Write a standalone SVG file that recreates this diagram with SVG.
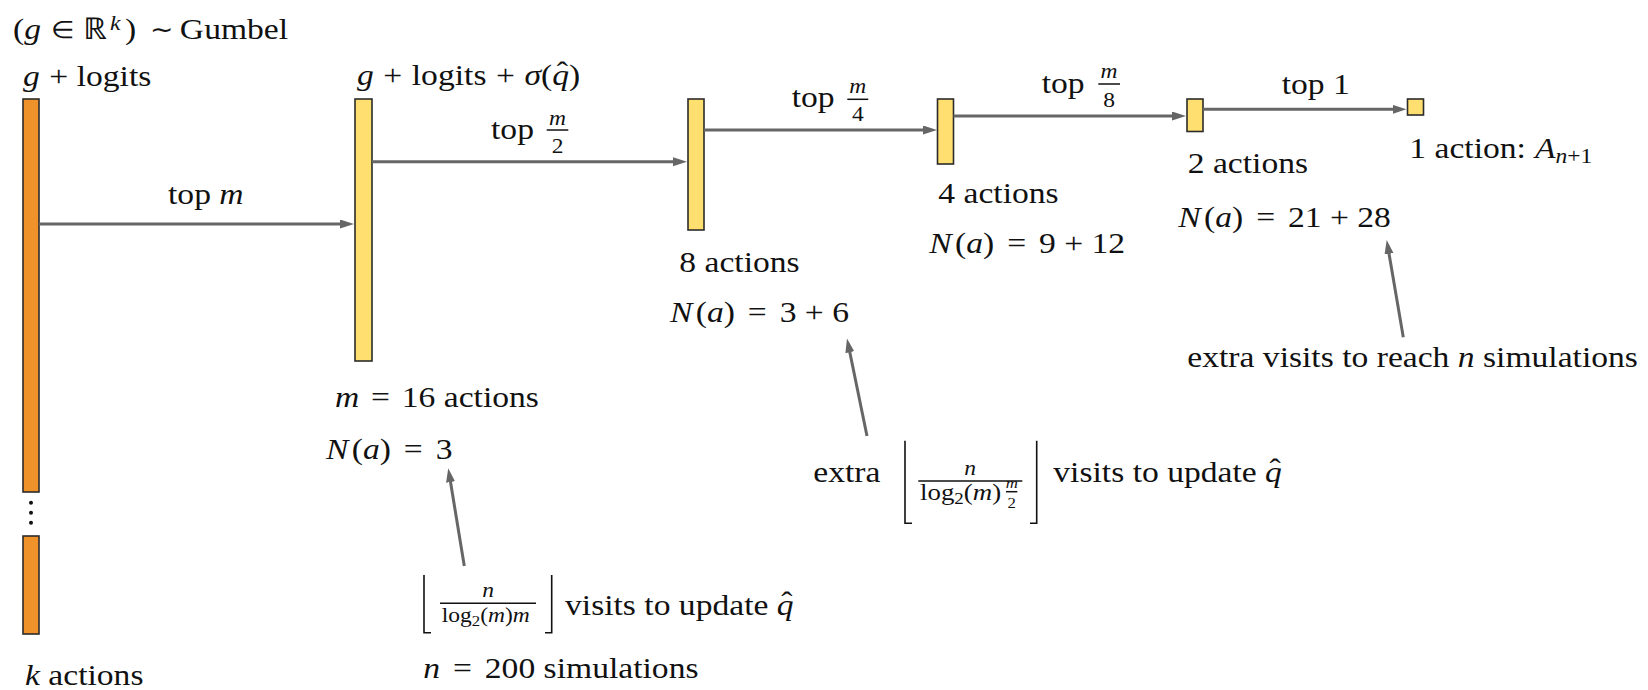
<svg xmlns="http://www.w3.org/2000/svg" width="1648" height="690" viewBox="0 0 1648 690">
<style>
.bar{stroke:#2b2b2b;stroke-width:1.6}
.or{fill:#F0922A}
.ye{fill:#FFDF70}
.con{stroke:#666;stroke-width:3;fill:none;marker-end:url(#ah)}
.fr{stroke:#111;stroke-width:1.5}
.br{stroke:#111;stroke-width:1.6;fill:none}
</style>
<defs>
<marker id="ah" markerUnits="userSpaceOnUse" markerWidth="16" markerHeight="10" refX="2" refY="4.5" orient="auto"><path d="M0,0 L14,4.5 L0,9 z" fill="#666"/></marker>
</defs>

<g id="header">
<text font-family="Liberation Serif" font-size="30" fill="#111" transform="translate(13,39) scale(1.12,1)">(<tspan font-style="italic">g</tspan><tspan x="34" font-size="24" dy="-1">∈</tspan><tspan x="62.5" dy="1">ℝ</tspan><tspan x="86.6" dy="-9" font-size="21" font-style="italic">k</tspan><tspan x="100" dy="9">)</tspan><tspan x="122" font-size="25" dy="-1">∼</tspan><tspan x="149" dy="1">Gumbel</tspan></text>
</g>

<g id="node-k">
<rect class="bar or" x="23" y="99" width="16" height="393"/>
<rect class="bar or" x="23" y="536" width="16" height="98"/>
<circle cx="31" cy="502.7" r="2" fill="#111"/>
<circle cx="31" cy="512.7" r="2" fill="#111"/>
<circle cx="31" cy="522.7" r="2" fill="#111"/>
<text font-family="Liberation Serif" font-size="30" fill="#111" transform="translate(23,86) scale(1.12,1)"><tspan font-style="italic">g</tspan> <tspan dx="1">+</tspan> logits</text>
<text font-family="Liberation Serif" font-size="30" fill="#111" transform="translate(25,685) scale(1.12,1)"><tspan font-style="italic">k</tspan> actions</text>
</g>

<g id="node-m">
<rect class="bar ye" x="355" y="99" width="17" height="262"/>
<text font-family="Liberation Serif" font-size="30" fill="#111" transform="translate(357,85) scale(1.12,1)"><tspan font-style="italic">g</tspan> <tspan dx="1">+</tspan> <tspan dx="1">logits</tspan> <tspan dx="1">+</tspan> <tspan dx="1" font-style="italic">σ</tspan>(<tspan font-style="italic">q</tspan><tspan dx="-11" dy="-3">ˆ</tspan><tspan dx="1" dy="3">)</tspan></text>
<text font-family="Liberation Serif" font-size="30" fill="#111" transform="translate(335,406.7) scale(1.12,1)"><tspan font-style="italic">m</tspan> <tspan dx="3">=</tspan> <tspan dx="3">16</tspan> actions</text>
<text font-family="Liberation Serif" font-size="30" fill="#111" transform="translate(326,459) scale(1.12,1)"><tspan font-style="italic">N</tspan><tspan dx="3">(</tspan><tspan font-style="italic">a</tspan>) <tspan dx="4">=</tspan> <tspan dx="4">3</tspan></text>
</g>

<g id="node-8">
<rect class="bar ye" x="688" y="99" width="16" height="131"/>
<text font-family="Liberation Serif" font-size="30" fill="#111" transform="translate(679.3,271.7) scale(1.12,1)">8 actions</text>
<text font-family="Liberation Serif" font-size="30" fill="#111" transform="translate(670,321.7) scale(1.12,1)"><tspan font-style="italic">N</tspan><tspan dx="3">(</tspan><tspan font-style="italic">a</tspan>) <tspan dx="4">=</tspan> <tspan dx="4">3</tspan> + 6</text>
</g>

<g id="node-4">
<rect class="bar ye" x="937.5" y="99" width="16" height="65"/>
<text font-family="Liberation Serif" font-size="30" fill="#111" transform="translate(938.3,202.7) scale(1.12,1)">4 actions</text>
<text font-family="Liberation Serif" font-size="30" fill="#111" transform="translate(929.3,253.3) scale(1.12,1)"><tspan font-style="italic">N</tspan><tspan dx="3">(</tspan><tspan font-style="italic">a</tspan>) <tspan dx="4">=</tspan> <tspan dx="4">9</tspan> + 12</text>
</g>

<g id="node-2">
<rect class="bar ye" x="1187" y="99" width="16" height="32.5"/>
<text font-family="Liberation Serif" font-size="30" fill="#111" transform="translate(1187.7,173.3) scale(1.12,1)">2 actions</text>
<text font-family="Liberation Serif" font-size="30" fill="#111" transform="translate(1178.3,226.7) scale(1.12,1)"><tspan font-style="italic">N</tspan><tspan dx="3">(</tspan><tspan font-style="italic">a</tspan>) <tspan dx="4">=</tspan> <tspan dx="4">21</tspan> + 28</text>
</g>

<g id="node-1">
<rect class="bar ye" x="1407.5" y="99" width="16" height="16"/>
<text font-family="Liberation Serif" font-size="30" fill="#111" transform="translate(1409.3,157.7) scale(1.12,1)">1 action: <tspan font-style="italic" x="112.2">A</tspan><tspan font-size="21" dy="5"><tspan font-style="italic">n</tspan>+1</tspan></text>
</g>

<g id="connectors">
<line class="con" x1="39" y1="224" x2="342" y2="224"/>
<line class="con" x1="372" y1="161.7" x2="675" y2="161.7"/>
<line class="con" x1="704" y1="130" x2="925" y2="130"/>
<line class="con" x1="953.5" y1="116" x2="1174" y2="116"/>
<line class="con" x1="1203" y1="109.3" x2="1394.5" y2="109.3"/>
<line class="con" x1="464.3" y1="566" x2="450.2" y2="480.1"/>
<line class="con" x1="867" y1="436" x2="849.4" y2="350.3"/>
<line class="con" x1="1403.3" y1="337.3" x2="1388.7" y2="251.8"/>
</g>

<g id="edge-labels">
<text font-family="Liberation Serif" font-size="30" fill="#111" transform="translate(168,204) scale(1.12,1)">top <tspan font-style="italic">m</tspan></text>
<text font-family="Liberation Serif" font-size="30" fill="#111" transform="translate(491,139) scale(1.12,1)">top</text>
<text font-family="Liberation Serif" font-size="21" font-style="italic" text-anchor="middle" fill="#111" transform="translate(557.5,125) scale(1.12,1)">m</text>
<line class="fr" x1="546.7" y1="130" x2="568.3" y2="130"/>
<text font-family="Liberation Serif" font-size="21" text-anchor="middle" fill="#111" transform="translate(557.5,153) scale(1.12,1)">2</text>
<text font-family="Liberation Serif" font-size="30" fill="#111" transform="translate(791.7,106.7) scale(1.12,1)">top</text>
<text font-family="Liberation Serif" font-size="21" font-style="italic" text-anchor="middle" fill="#111" transform="translate(857.8,93.3) scale(1.12,1)">m</text>
<line class="fr" x1="847.3" y1="99.3" x2="868.3" y2="99.3"/>
<text font-family="Liberation Serif" font-size="21" text-anchor="middle" fill="#111" transform="translate(857.8,121) scale(1.12,1)">4</text>
<text font-family="Liberation Serif" font-size="30" fill="#111" transform="translate(1041.7,93.3) scale(1.12,1)">top</text>
<text font-family="Liberation Serif" font-size="21" font-style="italic" text-anchor="middle" fill="#111" transform="translate(1109,78.3) scale(1.12,1)">m</text>
<line class="fr" x1="1098.3" y1="84" x2="1120" y2="84"/>
<text font-family="Liberation Serif" font-size="21" text-anchor="middle" fill="#111" transform="translate(1109,106.7) scale(1.12,1)">8</text>
<text font-family="Liberation Serif" font-size="30" fill="#111" transform="translate(1281.7,94.3) scale(1.12,1)">top 1</text>
</g>

<g id="note-visits">
<path class="br" d="M424,575 V632.7 H431"/>
<path class="br" d="M551.7,575 V632.7 H545"/>
<text font-family="Liberation Serif" font-size="21" font-style="italic" text-anchor="middle" fill="#111" transform="translate(488,596.7) scale(1.12,1)">n</text>
<line class="fr" x1="440" y1="603.3" x2="536" y2="603.3"/>
<text font-family="Liberation Serif" font-size="21" fill="#111" transform="translate(441.7,621.7) scale(1.12,1)">log<tspan font-size="15" dy="4">2</tspan><tspan dy="-4">(</tspan><tspan font-style="italic">m</tspan>)<tspan font-style="italic">m</tspan></text>
<text font-family="Liberation Serif" font-size="30" fill="#111" transform="translate(565,615) scale(1.12,1)">visits to update <tspan font-style="italic">q</tspan><tspan dx="-11" dy="-3">ˆ</tspan></text>
<text font-family="Liberation Serif" font-size="30" fill="#111" transform="translate(423.3,678.3) scale(1.12,1)"><tspan font-style="italic">n</tspan> <tspan dx="4">=</tspan> <tspan dx="4">200</tspan> simulations</text>
</g>

<g id="note-extra">
<text font-family="Liberation Serif" font-size="30" fill="#111" transform="translate(813.3,482.3) scale(1.12,1)">extra</text>
<path class="br" d="M905,440.7 V523.3 H912"/>
<path class="br" d="M1036.7,440.7 V523.3 H1030"/>
<text font-family="Liberation Serif" font-size="21" font-style="italic" text-anchor="middle" fill="#111" transform="translate(970,475) scale(1.12,1)">n</text>
<line class="fr" x1="918.3" y1="481" x2="1022.3" y2="481"/>
<text font-family="Liberation Serif" font-size="24" fill="#111" transform="translate(920,500) scale(1.12,1)">log<tspan font-size="17" dy="4">2</tspan><tspan dy="-4">(</tspan><tspan font-style="italic">m</tspan>)</text>
<text font-family="Liberation Serif" font-size="15" font-style="italic" text-anchor="middle" fill="#111" transform="translate(1011.7,488.3) scale(1.12,1)">m</text>
<line class="fr" x1="1006" y1="491.7" x2="1017.3" y2="491.7" stroke-width="1.2"/>
<text font-family="Liberation Serif" font-size="15" text-anchor="middle" fill="#111" transform="translate(1011.7,508.3) scale(1.12,1)">2</text>
<text font-family="Liberation Serif" font-size="30" fill="#111" transform="translate(1053.3,482.3) scale(1.12,1)">visits to update <tspan font-style="italic">q</tspan><tspan dx="-11" dy="-3">ˆ</tspan></text>
</g>

<g id="note-reach">
<text font-family="Liberation Serif" font-size="30" fill="#111" transform="translate(1187.3,366.7) scale(1.12,1)">extra visits to reach <tspan font-style="italic">n</tspan> simulations</text>
</g>
</svg>
